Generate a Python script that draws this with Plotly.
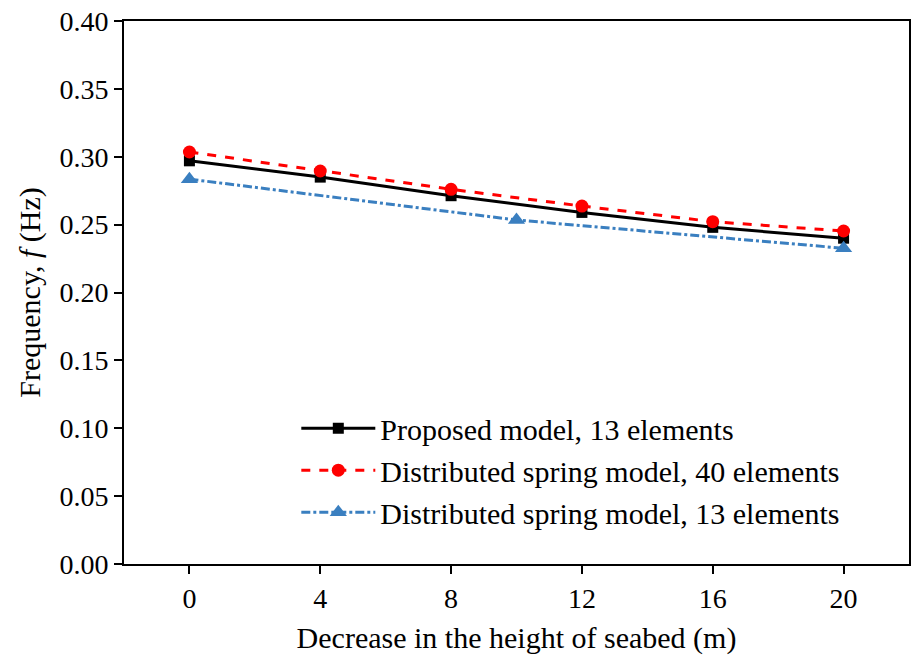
import plotly.graph_objects as go

x_main = [0, 4, 8, 12, 16, 20]
proposed_13 = [0.297, 0.285, 0.2713, 0.259, 0.248, 0.240]
dist_40 = [0.3035, 0.2895, 0.276, 0.2637, 0.2522, 0.2453]
x_dist13 = [0, 10, 20]
dist_13 = [0.2835, 0.2534, 0.2326]

x_ticks = [0, 4, 8, 12, 16, 20]
y_ticks = [0.00, 0.05, 0.10, 0.15, 0.20, 0.25, 0.30, 0.35, 0.40]

FONT = "Liberation Serif"

fig = go.Figure()
fig.add_trace(go.Scatter(
    x=x_main, y=proposed_13, mode="lines+markers",
    name="Proposed model, 13 elements",
    line=dict(color="black", width=3),
    marker=dict(symbol="square", size=11, color="black"),
))
fig.add_trace(go.Scatter(
    x=x_main, y=dist_40, mode="lines+markers",
    name="Distributed spring model, 40 elements",
    line=dict(color="#ff0000", width=3, dash="dash"),
    marker=dict(symbol="circle", size=13, color="#ff0000"),
))
fig.add_trace(go.Scatter(
    x=x_dist13, y=dist_13, mode="lines+markers",
    name="Distributed spring model, 13 elements",
    line=dict(color="#3a7fc0", width=3, dash="dashdot"),
    marker=dict(symbol="triangle-up", size=15, color="#3a7fc0"),
))

fig.update_layout(
    width=913, height=660,
    margin=dict(l=124, r=2, t=21, b=96),
    paper_bgcolor="white", plot_bgcolor="white",
    font=dict(family=FONT, size=28, color="black"),
    showlegend=True,
    legend=dict(
        x=0.2195, y=0.298, xanchor="left", yanchor="top",
        bgcolor="rgba(0,0,0,0)", borderwidth=0,
        font=dict(family=FONT, size=30, color="black"),
        itemwidth=74, tracegroupgap=0,
    ),
)
fig.update_xaxes(
    range=[-2, 22], tickvals=x_ticks, ticktext=[str(v) for v in x_ticks],
    showgrid=False, zeroline=False,
    showline=True, linecolor="black", linewidth=2, mirror=True,
    ticks="outside", ticklen=8, tickwidth=1.5, tickcolor="black",
    tickfont=dict(family=FONT, size=28),
    title=dict(text="Decrease in the height of seabed (m)", font=dict(family=FONT, size=30), standoff=14),
)
fig.update_yaxes(
    range=[0, 0.40], tickvals=y_ticks, ticktext=[f"{v:.2f}" for v in y_ticks],
    showgrid=False, zeroline=False,
    showline=True, linecolor="black", linewidth=2, mirror=True,
    ticks="outside", ticklen=8, tickwidth=1.5, tickcolor="black",
    tickfont=dict(family=FONT, size=28),
    title=dict(text="Frequency, <i>f</i> (Hz)", font=dict(family=FONT, size=30), standoff=10),
)

fig.write_html("out.html")
